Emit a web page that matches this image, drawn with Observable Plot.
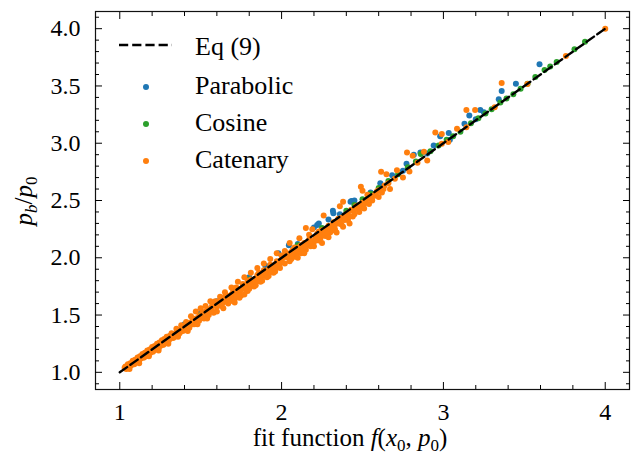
<!DOCTYPE html>
<html>
<head>
<meta charset="utf-8">
<script src="https://cdn.jsdelivr.net/npm/d3@7"></script>
<script src="https://cdn.jsdelivr.net/npm/@observablehq/plot@0.6"></script>
<style>
  html, body { margin: 0; padding: 0; background: #fff; }
  #chart { width: 634px; height: 458px; }
</style>
</head>
<body>
<div id="chart"></div>
<script>
// ---------- data ----------
const seriesNames = ["Parabolic", "Cosine", "Catenary"];
const seriesColors = ["#1f77b4", "#2ca02c", "#ff7f0e"];
const lineName = "Eq (9)";

const eqX = [1, 4];
const eqY = [1, 4];

const parabolic = [
  [1.10,1.11],[1.20,1.21],[1.30,1.31],[1.40,1.42],[1.50,1.52],[1.60,1.62],[1.70,1.73],
  [1.80,1.83],[1.90,1.93],[1.98,2.04],[2.045,2.11],[2.10,2.12],[2.20,2.265],[2.22,2.286],
  [2.23,2.30],[2.29,2.335],[2.317,2.41],[2.32,2.388],[2.36,2.38],[2.426,2.49],[2.432,2.496],
  [2.45,2.50],[2.55,2.57],[2.61,2.65],[2.683,2.72],[2.75,2.76],[2.772,2.82],[2.817,2.90],
  [2.858,2.92],[2.90,2.91],[2.94,2.98],[2.98,3.06],[3.033,3.09],[3.04,3.03],[3.13,3.17],
  [3.16,3.243],[3.20,3.21],[3.228,3.29],[3.25,3.27],[3.342,3.385],[3.36,3.455],[3.448,3.52],
  [3.594,3.69]
];

const cosine = [
  [1.20,1.20],[1.50,1.50],[1.80,1.81],[2.10,2.11],[2.25,2.26],[2.40,2.41],[2.45,2.46],
  [2.50,2.51],[2.55,2.56],[2.60,2.61],[2.66,2.67],[2.72,2.73],[2.78,2.79],[2.83,2.84],
  [2.86,2.905],[2.92,2.93],[2.97,2.98],[3.02,3.03],[3.06,3.06],[3.105,3.10],[3.17,3.175],
  [3.216,3.219],[3.26,3.26],[3.298,3.297],[3.352,3.355],[3.39,3.39],[3.432,3.427],
  [3.477,3.476],[3.52,3.52],[3.568,3.578],[3.625,3.64],[3.66,3.67],[3.70,3.71],[3.81,3.82],
  [3.875,3.887]
];

const catenary = [
  [1.03,1.04],[1.04,1.03],[1.05,1.07],[1.06,1.05],[1.06,1.03],[1.07,1.06],[1.08,1.10],
  [1.09,1.07],[1.10,1.09],[1.11,1.13],[1.12,1.10],[1.12,1.08],[1.13,1.12],[1.14,1.16],
  [1.15,1.13],[1.16,1.14],[1.17,1.19],[1.18,1.16],[1.18,1.14],[1.19,1.17],[1.20,1.22],
  [1.21,1.19],[1.22,1.20],[1.23,1.25],[1.24,1.21],[1.24,1.19],[1.25,1.23],[1.26,1.28],
  [1.27,1.24],[1.28,1.26],[1.29,1.31],[1.30,1.27],[1.30,1.25],
  [1.035,1.05],[1.045,1.05],[1.055,1.05],[1.065,1.08],[1.075,1.08],[1.085,1.08],[1.095,1.11],
  [1.105,1.11],[1.115,1.11],[1.125,1.14],[1.135,1.14],[1.145,1.13],[1.155,1.17],[1.165,1.17],
  [1.175,1.16],[1.185,1.20],[1.195,1.19],[1.205,1.18],[1.215,1.23],[1.225,1.22],[1.235,1.21],
  [1.245,1.26],[1.255,1.25],[1.265,1.24],[1.275,1.29],[1.285,1.28],[1.295,1.27],
  [1.31,1.29],[1.32,1.34],[1.33,1.30],[1.34,1.31],[1.35,1.38],[1.36,1.33],[1.36,1.31],
  [1.37,1.34],[1.38,1.41],[1.39,1.36],[1.40,1.37],[1.41,1.44],[1.42,1.39],[1.42,1.36],
  [1.43,1.39],[1.44,1.49],[1.45,1.42],[1.46,1.42],[1.47,1.53],[1.48,1.45],[1.48,1.42],
  [1.49,1.45],[1.50,1.56],[1.51,1.48],[1.52,1.47],[1.53,1.58],[1.54,1.51],[1.54,1.47],
  [1.55,1.50],[1.56,1.62],[1.57,1.54],[1.58,1.52],[1.59,1.62],[1.60,1.57],[1.60,1.53],
  [1.31,1.32],[1.33,1.33],[1.35,1.35],[1.37,1.37],[1.39,1.40],[1.41,1.41],[1.43,1.43],
  [1.45,1.46],[1.47,1.47],[1.49,1.49],[1.51,1.52],[1.53,1.53],[1.55,1.55],[1.57,1.58],
  [1.59,1.59],
  [1.61,1.59],[1.62,1.66],[1.63,1.58],[1.64,1.61],[1.65,1.70],[1.65,1.66],[1.66,1.62],
  [1.67,1.60],[1.68,1.66],[1.69,1.74],[1.70,1.65],[1.71,1.64],[1.72,1.70],[1.72,1.74],
  [1.73,1.79],[1.74,1.69],[1.75,1.67],[1.76,1.74],[1.77,1.83],[1.78,1.72],[1.79,1.71],
  [1.79,1.80],[1.80,1.78],[1.81,1.87],[1.82,1.76],[1.83,1.75],[1.84,1.82],[1.85,1.91],
  [1.86,1.80],[1.86,1.87],[1.87,1.79],[1.88,1.86],[1.89,1.95],[1.90,1.84],[1.91,1.83],
  [1.92,1.90],[1.93,1.99],[1.93,1.94],[1.94,1.88],[1.95,1.87],[1.96,1.94],[1.97,2.04],
  [1.98,1.92],[1.99,1.91],[2.00,1.98],[2.00,2.02],
  [1.61,1.62],[1.63,1.63],[1.64,1.56],[1.66,1.67],[1.68,1.62],[1.70,1.70],[1.71,1.61],
  [1.73,1.72],[1.74,1.65],[1.76,1.77],[1.77,1.68],[1.78,1.76],[1.80,1.73],[1.81,1.81],
  [1.83,1.79],[1.84,1.76],[1.85,1.85],[1.87,1.83],[1.88,1.80],[1.89,1.89],[1.91,1.87],
  [1.92,1.84],[1.93,1.92],[1.95,1.91],[1.96,1.88],[1.97,1.97],[1.99,1.95],
  [1.62,1.60],[1.66,1.64],[1.69,1.68],[1.72,1.67],[1.75,1.72],[1.78,1.74],[1.81,1.77],
  [1.84,1.79],[1.87,1.85],[1.90,1.87],[1.93,1.89],[1.96,1.91],[1.99,1.97],
  [2.02,1.95],[2.03,2.04],[2.05,2.13],[2.06,1.99],[2.07,2.07],[2.08,2.01],[2.10,2.09],
  [2.11,2.17],[2.12,2.04],[2.14,2.13],[2.15,2.07],[2.15,2.26],[2.17,2.16],[2.18,2.10],
  [2.19,2.25],[2.20,2.14],[2.22,2.21],[2.23,2.15],[2.25,2.24],[2.26,2.37],[2.27,2.19],
  [2.29,2.28],[2.30,2.22],[2.32,2.31],[2.33,2.25],[2.35,2.34],[2.36,2.45],[2.37,2.29],
  [2.38,2.49],[2.40,2.38],[2.41,2.33],[2.43,2.42],[2.44,2.36],[2.46,2.45],[2.48,2.40],
  [2.01,2.00],[2.02,2.06],[2.04,2.00],[2.05,1.97],[2.06,2.05],[2.08,2.09],[2.09,2.03],
  [2.10,2.00],[2.12,2.11],[2.13,2.07],[2.14,2.04],[2.16,2.12],[2.17,2.20],[2.19,2.13],
  [2.20,2.10],[2.21,2.18],[2.23,2.23],[2.24,2.17],[2.25,2.13],[2.27,2.25],[2.28,2.21],
  [2.29,2.18],[2.31,2.28],[2.32,2.24],[2.34,2.22],[2.35,2.30],[2.37,2.35],[2.38,2.27],
  [2.39,2.33],[2.41,2.39],[2.42,2.30],[2.44,2.41],[2.45,2.38],[2.47,2.43],[2.49,2.44],
  [2.52,2.50],[2.54,2.47],[2.57,2.54],[2.59,2.58],[2.62,2.57],[2.66,2.65],
  [2.03,2.01],[2.06,2.02],[2.09,2.06],[2.12,2.08],[2.15,2.10],[2.18,2.15],[2.21,2.15],
  [2.24,2.20],[2.27,2.22],[2.30,2.26],[2.33,2.29],[2.36,2.32],[2.39,2.36],[2.42,2.36],
  [2.45,2.42],[2.48,2.46],[2.51,2.47],[2.54,2.52],[2.56,2.50],[2.60,2.59],[2.63,2.60],
  [2.49,2.62],[2.50,2.48],[2.50,2.585],[2.51,2.43],[2.53,2.55],[2.55,2.52],[2.58,2.56],
  [2.60,2.53],[2.615,2.75],[2.636,2.63],[2.648,2.73],[2.67,2.60],[2.70,2.69],[2.713,2.765],
  [2.75,2.70],[2.775,2.92],[2.79,2.754],[2.81,2.89],[2.84,2.83],[2.88,2.925],[2.90,2.85],
  [2.95,3.094],[2.99,3.08],[2.99,2.995],[3.03,3.01],[3.084,3.127],[3.142,3.14],
  [3.142,3.29],[3.196,3.29],[3.317,3.315],[3.36,3.526],[3.519,3.517],[3.757,3.762],
  [4.00,4.00]
];

const xMajor = [1, 2, 3, 4];
const xMinor = [1.2, 1.4, 1.6, 1.8, 2.2, 2.4, 2.6, 2.8, 3.2, 3.4, 3.6, 3.8];
const yMajor = [1.0, 1.5, 2.0, 2.5, 3.0, 3.5, 4.0];
const yMinor = [0.9, 1.1, 1.2, 1.3, 1.4, 1.6, 1.7, 1.8, 1.9, 2.1, 2.2, 2.3, 2.4, 2.6, 2.7,
                2.8, 2.9, 3.1, 3.2, 3.3, 3.4, 3.6, 3.7, 3.8, 3.9, 4.1];

// ---------- chart ----------
const FONT = "'Liberation Serif', 'DejaVu Serif', serif";
const R = 3.0;
const eqLine = eqX.map((x, i) => ({x, y: eqY[i]}));
const none = () => "";

const chart = Plot.plot({
  width: 634,
  height: 458,
  marginLeft: 95,
  marginRight: 5,
  marginTop: 11,
  marginBottom: 69,
  style: {fontFamily: FONT, fontSize: "24px", color: "black", background: "white"},
  x: {domain: [0.85, 4.15]},
  y: {domain: [0.85, 4.15]},
  marks: [
    Plot.dot(parabolic, {x: d => d[0], y: d => d[1], r: R, fill: seriesColors[0]}),
    Plot.dot(cosine, {x: d => d[0], y: d => d[1], r: R, fill: seriesColors[1]}),
    Plot.dot(catenary, {x: d => d[0], y: d => d[1], r: R, fill: seriesColors[2]}),
    Plot.line(eqLine, {x: "x", y: "y", stroke: "black", strokeWidth: 2.4, strokeDasharray: "9,4"}),
    Plot.frame({stroke: "#111", strokeWidth: 1.2}),
    Plot.axisX({anchor: "bottom", ticks: xMajor, tickSize: -7, tickPadding: 20, tickFormat: d => String(d), label: null}),
    Plot.axisX({anchor: "bottom", ticks: xMinor, tickSize: -4, tickFormat: none, label: null}),
    Plot.axisX({anchor: "top", ticks: xMajor, tickSize: -7, tickFormat: none, label: null}),
    Plot.axisX({anchor: "top", ticks: xMinor, tickSize: -4, tickFormat: none, label: null}),
    Plot.axisY({anchor: "left", ticks: yMajor, tickSize: -7, tickPadding: 22, tickFormat: d3.format(".1f"), label: null}),
    Plot.axisY({anchor: "left", ticks: yMinor, tickSize: -4, tickFormat: none, label: null}),
    Plot.axisY({anchor: "right", ticks: yMajor, tickSize: -7, tickFormat: none, label: null}),
    Plot.axisY({anchor: "right", ticks: yMinor, tickSize: -4, tickFormat: none, label: null})
  ]
});

document.getElementById("chart").appendChild(chart);

// ---------- axis labels & legend (real text) ----------
const svg = d3.select(chart);

// x label: fit function f(x0, p0)
const xl = svg.append("text")
  .attr("x", 350).attr("y", 446)
  .attr("text-anchor", "middle")
  .style("font-family", FONT).style("font-size", "25px").attr("fill", "black");
xl.append("tspan").text("fit function ");
xl.append("tspan").style("font-style", "italic").text("f");
xl.append("tspan").text("(");
xl.append("tspan").style("font-style", "italic").text("x");
xl.append("tspan").attr("dy", 5).style("font-size", "17px").text("0");
xl.append("tspan").attr("dy", -5).text(", ");
xl.append("tspan").style("font-style", "italic").text("p");
xl.append("tspan").attr("dy", 5).style("font-size", "17px").text("0");
xl.append("tspan").attr("dy", -5).text(")");

// y label: p_b / p_0
const yl = svg.append("text")
  .attr("transform", "translate(32,201) rotate(-90)")
  .attr("text-anchor", "middle")
  .style("font-family", FONT).style("font-size", "25px").attr("fill", "black");
yl.append("tspan").style("font-style", "italic").text("p");
yl.append("tspan").attr("dy", 5).style("font-size", "17px").style("font-style", "italic").text("b");
yl.append("tspan").attr("dy", -5).text("/");
yl.append("tspan").style("font-style", "italic").text("p");
yl.append("tspan").attr("dy", 5).style("font-size", "17px").text("0");

// legend
const lg = svg.append("g")
  .attr("text-anchor", "start")
  .style("font-family", FONT).style("font-size", "26px");
lg.append("line")
  .attr("x1", 119).attr("x2", 172).attr("y1", 45).attr("y2", 45)
  .attr("stroke", "black").attr("stroke-width", 2.4).attr("stroke-dasharray", "9.2,4");
lg.append("text").attr("x", 195).attr("y", 55).attr("fill", "black").text(lineName);
seriesNames.forEach((name, i) => {
  const cy = 87 + i * 37;
  lg.append("circle").attr("cx", 146).attr("cy", cy).attr("r", R).attr("fill", seriesColors[i]);
  lg.append("text").attr("x", 195).attr("y", cy + 7).attr("fill", "black").text(name);
});
</script>
</body>
</html>
